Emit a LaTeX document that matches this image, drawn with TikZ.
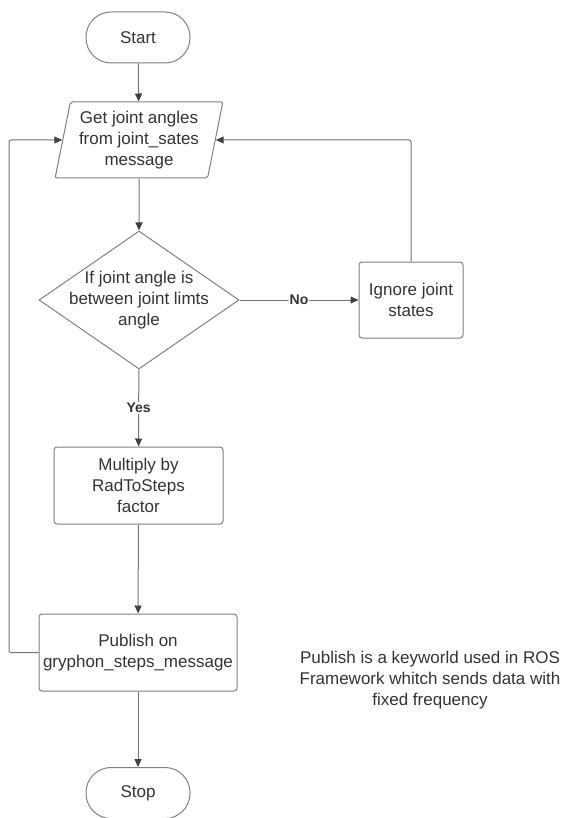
\documentclass[tikz,border=0pt]{standalone}
\usepackage{fontspec}
\setmainfont{Liberation Sans}
\usetikzlibrary{arrows.meta,positioning,shapes.geometric}

\begin{document}
\begin{tikzpicture}[x=1pt, y=-1pt, line width=1pt,
    every node/.style={text=black!80, font=\fontsize{17}{21}\selectfont},
    term/.style={draw=black!50, rounded corners=25pt, minimum width=104pt, minimum height=51pt},
    io/.style={draw=black!50, trapezium, trapezium left angle=77, trapezium right angle=103,
        trapezium stretches=true, minimum width=168pt, minimum height=76pt, inner sep=0pt,
        align=center, rounded corners=2pt},
    proc/.style={draw=black!50, rounded corners=3pt, align=center, minimum height=77pt},
    decision/.style={draw=black!50, diamond, minimum width=200pt, minimum height=138pt, inner sep=0pt},
    arr/.style={draw=black!55, rounded corners=2pt, -{Triangle[length=8pt, width=7pt, color=black!75]}},
    lbl/.style={fill=white, inner sep=1pt, font=\bfseries\fontsize{14}{16}\selectfont}]
    \useasboundingbox (0,0) rectangle (566,818);

    % Main column
    \node[term] (start) at (138,37.5) {Start};
    \node[io] (get) at (139,140) {Get joint angles\\from joint\_sates\\message};
    \node[decision] (chk) at (139,300) {};
    \node[align=center] (chktxt) at (chk) {If joint angle is\\between joint limts\\angle};
    \node[proc, minimum width=169pt] (mul) at (138.5,485.5) {Multiply by\\RadToSteps\\factor};
    \node[proc, minimum width=198pt] (pub) at (138,652.5) {Publish on\\gryphon\_steps\_message};
    \node[term] (stop) at (138,793) {Stop};

    % Side branch and note
    \node[proc, minimum width=104pt, minimum height=76pt] (ign) at (411,300) {Ignore joint\\states};
    \node[align=center] (note) at (430,680) {Publish is a keyworld used in ROS\\Framework whitch sends data with\\fixed frequency};

    \coordinate (lft) at (9,140);

    \draw[arr] (start) -- (get);
    \draw[arr] (get) -- (chk);
    \draw[arr] (chk.east) -- node[lbl] {No} (ign.west);
    \draw[arr] (chk) -- node[lbl] {Yes} (mul);
    \draw[arr] (mul) -- (pub);
    \draw[arr] (pub) -- (stop);
    \draw[arr] (ign.north) |- (get.east);
    \draw[arr] (pub.west) -| (lft) -- (get.west);
\end{tikzpicture}
\end{document}
